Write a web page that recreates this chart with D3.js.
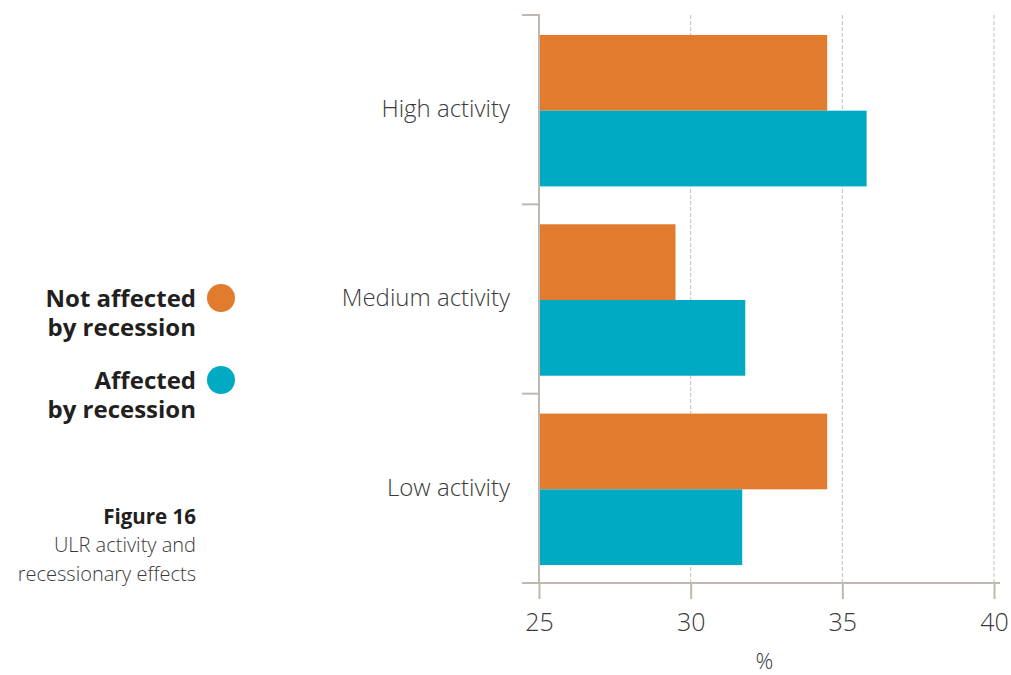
<!DOCTYPE html>
<html>
<head>
<meta charset="utf-8">
<script src="https://cdn.jsdelivr.net/npm/d3@7"></script>
<style>
  html, body { margin: 0; padding: 0; background: #fff; }
  svg { display: block; font-family: "Open Sans", "Noto Sans", sans-serif; }
</style>
</head>
<body>
<svg id="chart" width="1011" height="675"></svg>
<script>
// Share of ULR activity by level and recession exposure (%)
const categories = ["High activity", "Medium activity", "Low activity"];
const seriesNames = ["Not affected by recession", "Affected by recession"];
const notAffected = [34.5, 29.5, 34.5];
const affected = [35.8, 31.8, 31.7];
const xTicks = [25, 30, 35, 40];
const legendLines = [["Not affected", "by recession"], ["Affected", "by recession"]];
const captionTitle = "Figure 16";
const captionLines = ["ULR activity and", "recessionary effects"];
const axisTitle = "%";

const colors = ["#e17b2e", "#00aac3"];
const axisColor = "#bfb8ae";
const textColor = "#3a3a3a";

const svg = d3.select("#chart");
const plot = { left: 539, right: 994, top: 15, bottom: 583 };

const x = d3.scaleLinear().domain([25, 40]).range([plot.left, plot.right]);
const y = d3.scaleBand().domain(categories).range([plot.top, plot.bottom])
  .paddingInner(0.2).paddingOuter(0.1);
const yOuter = d3.scaleBand().domain(categories).range([plot.top, plot.bottom]);
const ySub = d3.scaleBand().domain(seriesNames).range([0, y.bandwidth()]);

// dashed vertical gridlines
svg.append("g").selectAll("line")
  .data(xTicks.slice(1))
  .join("line")
  .attr("x1", d => x(d)).attr("x2", d => x(d))
  .attr("y1", plot.top).attr("y2", plot.bottom)
  .attr("stroke", "#c4c0bb").attr("stroke-width", 1)
  .attr("stroke-dasharray", "4,2");

// bars
const rows = categories.map((c, i) => ({ cat: c, vals: [notAffected[i], affected[i]] }));
const groups = svg.append("g").selectAll("g")
  .data(rows).join("g")
  .attr("transform", d => `translate(0,${y(d.cat) + 1})`);
groups.selectAll("rect")
  .data(d => d.vals.map((v, j) => ({ v, j })))
  .join("rect")
  .attr("x", x(25))
  .attr("y", d => ySub(seriesNames[d.j]))
  .attr("width", d => x(d.v) - x(25))
  .attr("height", ySub.bandwidth())
  .attr("fill", d => colors[d.j]);

// bottom axis
const xAxis = svg.append("g")
  .attr("transform", `translate(0,${plot.bottom})`)
  .call(d3.axisBottom(x).tickValues(xTicks).tickSize(16).tickPadding(14).tickSizeOuter(0));
xAxis.select(".domain").remove();
xAxis.selectAll(".tick line").attr("stroke", axisColor).attr("stroke-width", 2);
xAxis.selectAll(".tick text")
  .attr("fill", textColor).attr("font-size", 25).attr("font-weight", 300)
  .attr("font-family", "'Open Sans', sans-serif");
svg.append("line")
  .attr("x1", plot.left - 17).attr("x2", plot.right + 6)
  .attr("y1", plot.bottom).attr("y2", plot.bottom)
  .attr("stroke", axisColor).attr("stroke-width", 2);

// left axis with ticks at band boundaries
svg.append("line")
  .attr("x1", plot.left).attr("x2", plot.left)
  .attr("y1", plot.top).attr("y2", plot.bottom)
  .attr("stroke", axisColor).attr("stroke-width", 2);
const boundaries = categories.map(c => yOuter(c));
svg.append("g").selectAll("line")
  .data(boundaries).join("line")
  .attr("x1", plot.left - 17).attr("x2", plot.left + 1)
  .attr("y1", d => d).attr("y2", d => d)
  .attr("stroke", axisColor).attr("stroke-width", 2);

// category labels
svg.append("g").selectAll("text")
  .data(categories).join("text")
  .attr("x", 510)
  .attr("y", d => yOuter(d) + yOuter.bandwidth() / 2)
  .attr("dy", "0.3em")
  .attr("text-anchor", "end")
  .attr("fill", textColor)
  .attr("font-size", 24).attr("font-weight", 300)
  .text(d => d);

// axis title
svg.append("text")
  .attr("x", (x(30) + x(35)) / 2 - 2).attr("y", 669)
  .attr("text-anchor", "middle")
  .attr("fill", textColor).attr("font-size", 22).attr("font-weight", 300)
  .text(axisTitle);

// legend
const legendTop = [307, 389];
legendLines.forEach((lines, i) => {
  const g = svg.append("g");
  const t = g.append("text")
    .attr("text-anchor", "end")
    .attr("fill", "#231f20")
    .attr("font-size", 24).attr("font-weight", 700);
  lines.forEach((line, k) => {
    t.append("tspan")
      .attr("x", 196).attr("y", legendTop[i] + k * 29)
      .text(line);
  });
  g.append("circle")
    .attr("cx", 221).attr("cy", legendTop[i] - 9)
    .attr("r", 14)
    .attr("fill", colors[i]);
});

// caption
svg.append("text")
  .attr("x", 196).attr("y", 524)
  .attr("text-anchor", "end")
  .attr("fill", "#231f20").attr("font-size", 20.5).attr("font-weight", 700)
  .text(captionTitle);
const cap = svg.append("text")
  .attr("text-anchor", "end")
  .attr("fill", textColor).attr("font-size", 20).attr("font-weight", 300);
captionLines.forEach((line, k) => {
  cap.append("tspan")
    .attr("x", 196).attr("y", 552 + k * 29)
    .text(line);
});
</script>
</body>
</html>
